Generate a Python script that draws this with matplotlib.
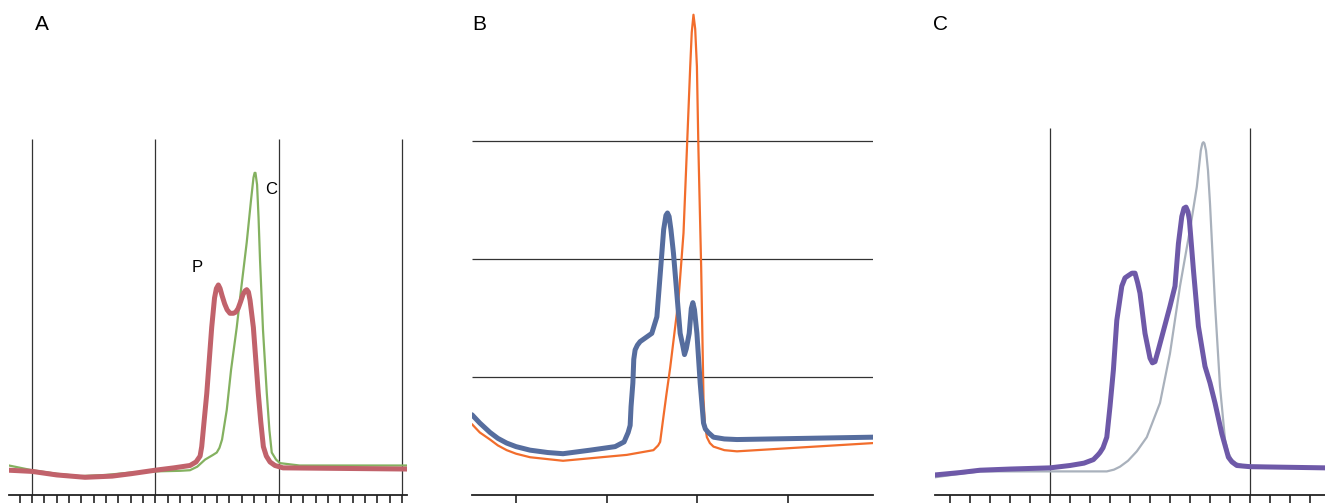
import numpy as np
import matplotlib
matplotlib.use("Agg")
import matplotlib.pyplot as plt

# Panel A: P (red) vs C (green)
a_x_red = [-1.87, 0.0, 2.0, 4.30, 6.5, 8.0, 9.98, 11.5, 12.81, 13.3, 13.63, 13.76,
           13.95, 14.17, 14.37, 14.57, 14.80, 14.95, 15.11, 15.25, 15.41, 15.62,
           15.82, 16.05, 16.33, 16.52, 16.71, 16.92, 17.11, 17.28, 17.41, 17.55,
           17.68, 17.95, 18.15, 18.35, 18.55, 18.76, 19.0, 19.30, 19.7, 20.36, 30.41]
a_y_red = [0.21, 0.20, 0.17, 0.15, 0.16, 0.18, 0.21, 0.23, 0.25, 0.28, 0.33, 0.41,
           0.62, 0.86, 1.14, 1.42, 1.67, 1.75, 1.78, 1.75, 1.69, 1.62,
           1.57, 1.54, 1.54, 1.55, 1.58, 1.64, 1.70, 1.73, 1.74, 1.72,
           1.65, 1.42, 1.14, 0.86, 0.62, 0.41, 0.33, 0.28, 0.25, 0.23, 0.22]
a_x_green = [-1.87, 0.0, 2.0, 3.89, 6.0, 8.0, 9.98, 12.0, 12.81, 13.4, 14.03, 14.68,
             14.98, 15.2, 15.41, 15.79, 16.14, 16.60, 16.95, 17.41, 17.76, 17.96,
             18.05, 18.12, 18.25, 18.37, 18.49, 18.73, 19.04, 19.25, 19.44, 19.79,
             20.11, 21.70, 30.41]
a_y_green = [0.25, 0.21, 0.18, 0.16, 0.17, 0.19, 0.20, 0.205, 0.21, 0.24, 0.30, 0.34,
             0.36, 0.40, 0.47, 0.72, 1.06, 1.42, 1.74, 2.14, 2.50, 2.69,
             2.73, 2.73, 2.63, 2.35, 1.99, 1.40, 0.86, 0.55, 0.36, 0.30,
             0.27, 0.25, 0.25]
a_grid = [0, 10, 20, 30]

# Panel B
b_x_blue = [0.514, 0.6, 0.713, 0.8, 0.897, 1.0, 1.155, 1.35, 1.519, 1.818, 2.094,
            2.193, 2.238, 2.260, 2.27, 2.290, 2.30, 2.315, 2.34, 2.370, 2.499,
            2.555, 2.610, 2.63, 2.655, 2.672, 2.69, 2.71, 2.738, 2.812, 2.84,
            2.860, 2.88, 2.912, 2.935, 2.952, 2.97, 2.997, 3.033, 3.070, 3.09,
            3.122, 3.180, 3.3, 3.439, 4.941]
b_y_blue = [0.68, 0.61, 0.53, 0.48, 0.44, 0.41, 0.38, 0.36, 0.35, 0.38, 0.41,
            0.45, 0.53, 0.59, 0.75, 0.95, 1.15, 1.23, 1.27, 1.30, 1.37,
            1.51, 2.05, 2.25, 2.37, 2.39, 2.36, 2.25, 2.05, 1.37, 1.27,
            1.19, 1.24, 1.37, 1.58, 1.63, 1.57, 1.37, 0.95, 0.61, 0.56,
            0.53, 0.49, 0.475, 0.47, 0.49]
b_x_orange = [0.514, 0.6, 0.713, 0.8, 0.897, 1.0, 1.155, 1.519, 2.223, 2.517, 2.569,
              2.591, 2.62, 2.66, 2.702, 2.793, 2.849, 2.886, 2.923, 2.94, 2.959,
              2.978, 2.997, 3.014, 3.044, 3.070, 3.085, 3.107, 3.14, 3.180, 3.3,
              3.439, 4.941]
b_y_orange = [0.60, 0.53, 0.47, 0.42, 0.38, 0.35, 0.32, 0.29, 0.34, 0.38, 0.42,
              0.45, 0.62, 0.85, 1.08, 1.65, 2.22, 2.92, 3.63, 3.92, 4.07,
              3.95, 3.63, 2.92, 1.93, 0.81, 0.60, 0.49, 0.44, 0.41, 0.38,
              0.37, 0.44]
b_grid = [1, 2, 3]

# Panel C
c_x_purple = [-5.75, -4.5, -3.5, -2.0, 0.0, 1.0, 1.7, 2.17, 2.4, 2.5, 2.65, 2.84,
              3.0, 3.17, 3.34, 3.59, 3.75, 3.92, 4.1, 4.25, 4.38, 4.5, 4.75, 5.0,
              5.12, 5.25, 5.4, 5.59, 6.0, 6.25, 6.42, 6.59, 6.7, 6.8, 6.9, 6.97,
              7.17, 7.42, 7.75, 8.0, 8.25, 8.59, 8.92, 9.1, 9.34, 10.0, 13.75]
c_y_purple = [0.17, 0.19, 0.21, 0.22, 0.23, 0.25, 0.27, 0.30, 0.34, 0.36, 0.40, 0.49,
              0.75, 1.06, 1.48, 1.77, 1.84, 1.86, 1.88, 1.88, 1.80, 1.71, 1.37, 1.16,
              1.12, 1.13, 1.22, 1.34, 1.60, 1.77, 2.13, 2.36, 2.43, 2.44, 2.40, 2.33,
              1.91, 1.43, 1.09, 0.95, 0.78, 0.52, 0.32, 0.28, 0.25, 0.24, 0.23]
c_x_grey = [-5.75, -4.5, -3.5, 0.0, 2.84, 3.2, 3.5, 3.9, 4.34, 4.84, 5.5, 6.0, 6.5,
            7.0, 7.34, 7.54, 7.62, 7.67, 7.72, 7.8, 7.9, 8.0, 8.25, 8.5, 8.75,
            8.9, 9.09, 9.3, 9.67, 13.75]
c_y_grey = [0.15, 0.18, 0.20, 0.20, 0.20, 0.215, 0.24, 0.29, 0.37, 0.49, 0.78, 1.20, 1.77,
            2.25, 2.61, 2.92, 2.98, 2.99, 2.98, 2.92, 2.75, 2.47, 1.62, 0.92, 0.47,
            0.36, 0.30, 0.27, 0.25, 0.23]
c_grid = [0, 10]

W, H = 1325, 503
plt.rcParams["font.family"] = ["Liberation Sans", "DejaVu Sans"]

fig = plt.figure(figsize=(W / 100, H / 100), dpi=100)
bottom = 8 / H
height = 495 / H
ytop = 495 / 118

axA = fig.add_axes([9 / W, bottom, 398 / W, height])
axB = fig.add_axes([472 / W, bottom, 401 / W, height])
axC = fig.add_axes([935 / W, bottom, 390 / W, height])

for ax in (axA, axB, axC):
    for s in ("top", "left", "right"):
        ax.spines[s].set_visible(False)
    ax.spines["bottom"].set_linewidth(1.3)
    ax.spines["bottom"].set_color("#222222")
    ax.set_yticks([])
    ax.set_ylim(0, ytop)
    ax.patch.set_alpha(0)
    ax.tick_params(axis="x", direction="out", length=6, width=1.2,
                   color="#222222", labelbottom=False)

line_kw = dict(solid_joinstyle="round", solid_capstyle="round")

# A
axA.set_xlim(-1.87, 30.41)
axA.set_xticks(np.arange(-1, 31))
axA.vlines(a_grid, 0, 3.02, color="#333333", lw=0.9, zorder=1)
axA.plot(a_x_green, a_y_green, color="#84b160", lw=1.6, zorder=2, **line_kw)
axA.plot(a_x_red, a_y_red, color="#c1626b", lw=3.6, zorder=3, **line_kw)
axA.text(13.4, 1.93, "P", ha="center", va="center", fontsize=12)
axA.text(19.4, 2.59, "C", ha="center", va="center", fontsize=12)

# B
axB.set_xlim(0.514, 4.941)
axB.set_xticks([1, 2, 3, 4])
axB.tick_params(axis="x", length=8)
axB.hlines(b_grid, 0.514, 4.941, color="#333333", lw=0.9, zorder=1)
axB.plot(b_x_orange, b_y_orange, color="#f26d2c", lw=1.6, zorder=2, **line_kw)
axB.plot(b_x_blue, b_y_blue, color="#566d9e", lw=3.6, zorder=3, **line_kw)

# C
axC.set_xlim(-5.75, 13.75)
axC.set_xticks(np.arange(-5, 14))
axC.vlines(c_grid, 0, 3.11, color="#333333", lw=0.9, zorder=1)
axC.plot(c_x_grey, c_y_grey, color="#a9b1bc", lw=1.6, zorder=2, **line_kw)
axC.plot(c_x_purple, c_y_purple, color="#6e59a8", lw=3.6, zorder=3, **line_kw)

for label, px in (("A", 42), ("B", 479), ("C", 941)):
    fig.text(px / W, 1 - 25 / H, label, ha="center", va="center", fontsize=15)

fig.savefig("out.png", dpi=100)
